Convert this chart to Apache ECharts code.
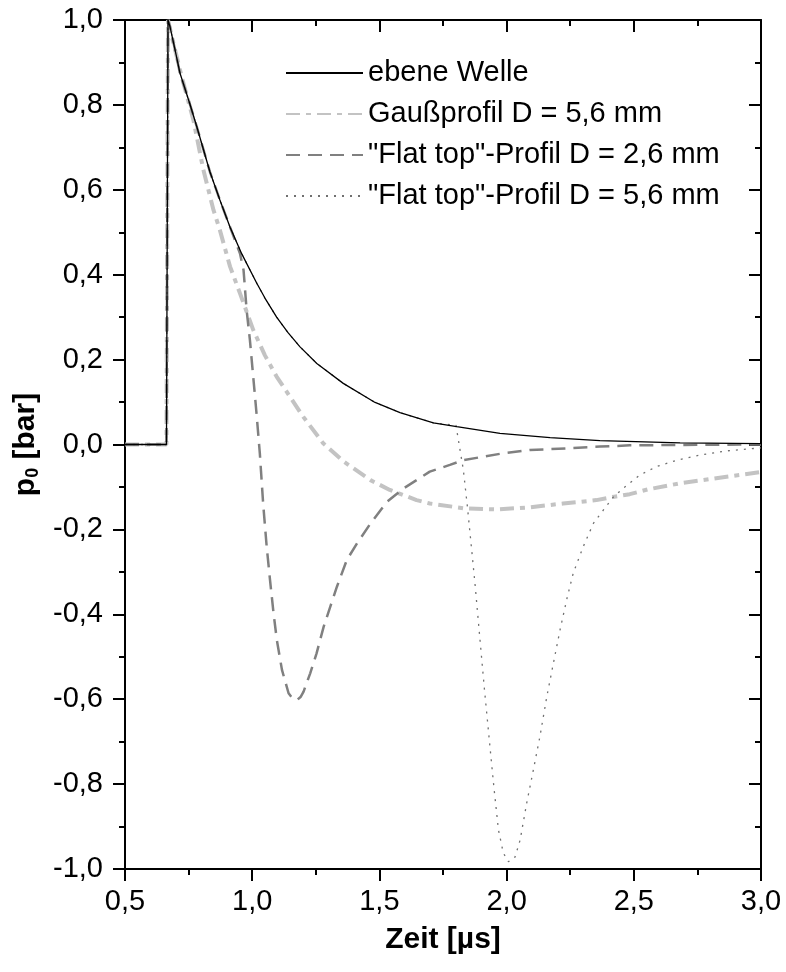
<!DOCTYPE html>
<html>
<head>
<meta charset="utf-8">
<script src="https://cdn.jsdelivr.net/npm/echarts@6/dist/echarts.min.js"></script>
<style>html,body{margin:0;padding:0;background:#fff}#c{width:786px;height:972px}</style>
</head>
<body>
<div id="c"></div>
<script>
// ---- data (time in µs, pressure in bar) ----
const seriesNames = ['ebene Welle', 'Gaußprofil D = 5,6 mm', '"Flat top"-Profil D = 2,6 mm', '"Flat top"-Profil D = 5,6 mm'];

const tWelle = [0.5, 0.663, 0.669, 0.677, 0.697, 0.716, 0.755, 0.782, 0.834, 0.873, 0.913, 0.959, 1.018, 1.05, 1.096, 1.14, 1.188, 1.254, 1.358, 1.483, 1.581, 1.712, 1.804, 1.974, 2.171, 2.367, 2.682, 3.0];
const pWelle = [0, 0, 1.0, 0.984, 0.929, 0.875, 0.802, 0.749, 0.642, 0.576, 0.512, 0.449, 0.380, 0.345, 0.300, 0.264, 0.230, 0.191, 0.144, 0.099, 0.075, 0.051, 0.042, 0.026, 0.016, 0.009, 0.004, 0.002];

const tGauss = [0.5, 0.663, 0.669, 0.684, 0.723, 0.769, 0.808, 0.848, 0.873, 0.913, 0.952, 1.004, 1.05, 1.096, 1.201, 1.279, 1.294, 1.359, 1.465, 1.541, 1.646, 1.698, 1.829, 1.960, 2.091, 2.222, 2.291, 2.353, 2.423, 2.484, 2.554, 2.685, 2.816, 3.0];
const pGauss = [0, 0, 1.0, 0.961, 0.866, 0.764, 0.647, 0.552, 0.505, 0.419, 0.356, 0.270, 0.210, 0.160, 0.065, 0.003, -0.005, -0.040, -0.084, -0.107, -0.131, -0.139, -0.150, -0.153, -0.148, -0.139, -0.135, -0.131, -0.123, -0.117, -0.106, -0.091, -0.080, -0.065];

const tFlat26 = [0.5, 0.663, 0.669, 0.677, 0.697, 0.716, 0.755, 0.782, 0.834, 0.873, 0.913, 0.952, 0.966, 0.978, 0.991, 1.004, 1.017, 1.030, 1.043, 1.057, 1.070, 1.084, 1.097, 1.117, 1.143, 1.160, 1.176, 1.190, 1.202, 1.228, 1.253, 1.281, 1.307, 1.333, 1.372, 1.412, 1.465, 1.530, 1.596, 1.646, 1.698, 1.777, 1.829, 1.974, 2.091, 2.171, 2.367, 2.484, 2.682, 3.0];
const pFlat26 = [0, 0, 1.0, 0.984, 0.929, 0.875, 0.802, 0.749, 0.642, 0.576, 0.512, 0.450, 0.411, 0.317, 0.246, 0.160, 0.073, -0.021, -0.139, -0.241, -0.319, -0.398, -0.461, -0.531, -0.586, -0.599, -0.602, -0.595, -0.582, -0.539, -0.492, -0.429, -0.382, -0.335, -0.272, -0.233, -0.186, -0.135, -0.103, -0.084, -0.064, -0.048, -0.037, -0.022, -0.013, -0.011, -0.005, -0.002, -0.001, 0];

const tFlat56 = [0.5, 0.663, 0.669, 0.677, 0.697, 0.716, 0.755, 0.782, 0.834, 0.873, 0.913, 0.959, 1.018, 1.05, 1.096, 1.14, 1.188, 1.254, 1.358, 1.483, 1.581, 1.712, 1.801, 1.817, 1.830, 1.846, 1.864, 1.877, 1.893, 1.912, 1.932, 1.950, 1.968, 1.987, 2.007, 2.033, 2.053, 2.079, 2.105, 2.131, 2.158, 2.184, 2.210, 2.236, 2.262, 2.301, 2.341, 2.367, 2.419, 2.459, 2.524, 2.590, 2.669, 2.760, 2.865, 3.0];
const pFlat56 = [0, 0, 1.0, 0.984, 0.929, 0.875, 0.802, 0.749, 0.642, 0.576, 0.512, 0.449, 0.380, 0.345, 0.300, 0.264, 0.230, 0.191, 0.144, 0.099, 0.075, 0.051, 0.045, -0.013, -0.060, -0.147, -0.256, -0.336, -0.444, -0.571, -0.696, -0.807, -0.908, -0.962, -0.983, -0.972, -0.932, -0.845, -0.767, -0.688, -0.594, -0.515, -0.437, -0.366, -0.303, -0.241, -0.186, -0.165, -0.124, -0.103, -0.072, -0.052, -0.037, -0.025, -0.015, -0.008];

const xTicks = { min: 0.5, max: 3.0, step: 0.5 };
const yTicks = { min: -1.0, max: 1.0, step: 0.2 };

function pairs(t, p) { return t.map((v, i) => [v, p[i]]); }
function fmt(v) { if (Math.abs(v) < 1e-9) v = 0; return v.toFixed(1).replace('.', ','); }

const FONT = '"Liberation Sans", Arial, Helvetica, sans-serif';
const axisLineStyle = { color: '#000', width: 2 };

const chart = echarts.init(document.getElementById('c'), null, { renderer: 'canvas' });
chart.setOption({
  animation: false,
  backgroundColor: '#fff',
  grid: { left: 125, right: 25, top: 20, bottom: 103, containLabel: false },
  legend: {
    data: seriesNames,
    orient: 'vertical',
    left: 285,
    top: 58,
    padding: 0,
    itemWidth: 77,
    itemHeight: 14,
    itemGap: 11,
    itemStyle: { opacity: 0 },
    textStyle: { fontSize: 29, color: '#000', fontFamily: FONT, lineHeight: 30 },
    selectedMode: false
  },
  xAxis: [
    {
      type: 'value', position: 'bottom', min: xTicks.min, max: xTicks.max, interval: xTicks.step,
      axisLine: { show: true, onZero: false, lineStyle: axisLineStyle },
      axisTick: { show: true, inside: false, length: 12, lineStyle: { color: '#000', width: 2 } },
      minorTick: { show: true, splitNumber: 2, length: 6, lineStyle: { color: '#000', width: 2 } },
      splitLine: { show: false },
      axisLabel: { show: true, margin: 18, fontSize: 29, color: '#000', fontFamily: FONT, formatter: fmt, showMinLabel: true, showMaxLabel: true },
      name: 'Zeit [µs]', nameLocation: 'middle', nameGap: 56,
      nameTextStyle: { fontSize: 30, fontWeight: 'bold', color: '#000', fontFamily: FONT }
    },
    {
      type: 'value', position: 'top', min: xTicks.min, max: xTicks.max, interval: xTicks.step,
      axisLine: { show: true, onZero: false, lineStyle: axisLineStyle },
      axisTick: { show: true, inside: true, length: 12, lineStyle: { color: '#000', width: 2 } },
      minorTick: { show: true, splitNumber: 2, length: 6, lineStyle: { color: '#000', width: 2 } },
      splitLine: { show: false },
      axisLabel: { show: false }
    }
  ],
  yAxis: [
    {
      type: 'value', position: 'left', min: yTicks.min, max: yTicks.max, interval: yTicks.step,
      axisLine: { show: true, onZero: false, lineStyle: axisLineStyle },
      axisTick: { show: true, inside: false, length: 12, lineStyle: { color: '#000', width: 2 } },
      minorTick: { show: true, splitNumber: 2, length: 6, lineStyle: { color: '#000', width: 2 } },
      splitLine: { show: false },
      axisLabel: { show: true, margin: 22, fontSize: 29, color: '#000', fontFamily: FONT, formatter: fmt, showMinLabel: true, showMaxLabel: true },
      name: '{a|p}{b|0}{a| [bar]}', nameLocation: 'middle', nameRotate: 90, nameGap: 78,
      nameTextStyle: {
        color: '#000', fontFamily: FONT,
        rich: {
          a: { fontSize: 30, fontWeight: 'bold', color: '#000', fontFamily: FONT, lineHeight: 34 },
          b: { fontSize: 18, fontWeight: 'bold', color: '#000', fontFamily: FONT, lineHeight: 34, padding: [14, 0, 0, 0] }
        }
      }
    },
    {
      type: 'value', position: 'right', min: yTicks.min, max: yTicks.max, interval: yTicks.step,
      axisLine: { show: true, onZero: false, lineStyle: axisLineStyle },
      axisTick: { show: true, inside: true, length: 12, lineStyle: { color: '#000', width: 2 } },
      minorTick: { show: true, splitNumber: 2, length: 6, lineStyle: { color: '#000', width: 2 } },
      splitLine: { show: false },
      axisLabel: { show: false }
    }
  ],
  series: [
    {
      name: seriesNames[1], type: 'line', symbol: 'none', smooth: false,
      data: pairs(tGauss, pGauss),
      lineStyle: { color: '#c3c3c3', width: 4, type: [14, 6, 5, 6], cap: 'butt' },
      itemStyle: { color: '#c3c3c3' }
    },
    {
      name: seriesNames[2], type: 'line', symbol: 'none', smooth: false,
      data: pairs(tFlat26, pFlat26),
      lineStyle: { color: '#808080', width: 2.5, type: [14, 8] },
      itemStyle: { color: '#808080' }
    },
    {
      name: seriesNames[3], type: 'line', symbol: 'none', smooth: false,
      data: pairs(tFlat56, pFlat56),
      lineStyle: { color: '#707070', width: 1.3, type: [2, 6] },
      itemStyle: { color: '#707070' }
    },
    {
      name: seriesNames[0], type: 'line', symbol: 'none', smooth: false,
      data: pairs(tWelle, pWelle),
      lineStyle: { color: '#000', width: 1.3, type: 'solid' },
      itemStyle: { color: '#000' }
    }
  ]
});
</script>
</body>
</html>
